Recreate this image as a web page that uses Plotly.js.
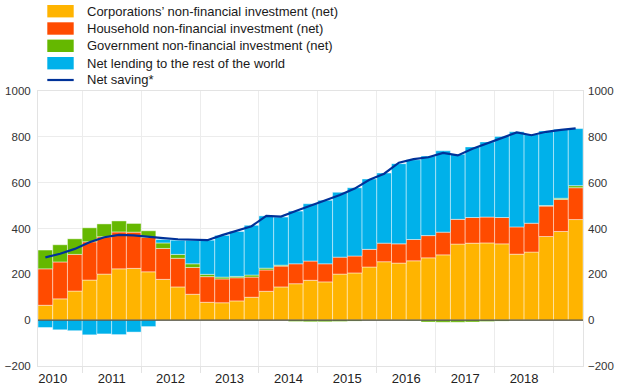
<!DOCTYPE html>
<html>
<head>
<meta charset="utf-8">
<script src="https://cdn.plot.ly/plotly-3.0.1.min.js"></script>
<style>html,body{margin:0;padding:0;background:#fff;}#chart{width:620px;height:388px;}</style>
</head>
<body>
<div id="chart"></div>
<script>
const quarters = ['2010Q2','2010Q3','2010Q4','2011Q1','2011Q2','2011Q3','2011Q4','2012Q1','2012Q2','2012Q3','2012Q4','2013Q1','2013Q2','2013Q3','2013Q4','2014Q1','2014Q2','2014Q3','2014Q4','2015Q1','2015Q2','2015Q3','2015Q4','2016Q1','2016Q2','2016Q3','2016Q4','2017Q1','2017Q2','2017Q3','2017Q4','2018Q1','2018Q2','2018Q3','2018Q4','2019Q1','2019Q2'];
const corporations = [65,93,127,175,201,224,226,211,178,145,113,78,76,84,100,126,145,159,174,167,201,206,232,255,249,259,272,285,332,336,337,333,288,297,365,387,439];
const households = [159,161,160,167,163,161,158,150,135,125,117,112,104,101,88,93,91,87,84,79,74,74,77,81,84,93,97,99,108,112,113,115,119,126,133,140,139];
const government = [82,75,68,61,56,48,38,29,24,17,16,10,8,6,9,8,4,-6,-7,-7,-6,-4,-1,-1,-1,-2,-8,-9,-9,-8,-6,-4,-1,-1,2,5,9];
const netLending = [-32,-42,-46,-64,-60,-63,-52,-28,15,62,103,149,182,196,217,228,210,230,250,277,283,298,307,306,350,348,347,355,284,308,328,353,415,387,326,301,249];
const netSaving = [274,290,311,340,362,372,370,363,358,353,352,349,371,392,410,455,452,476,500,522,546,574,613,639,687,703,711,730,719,748,772,796,819,807,822,830,837];
const years = ['2010','2011','2012','2013','2014','2015','2016','2017','2018'];
const seriesNames = ['Corporations\u2019 non-financial investment (net)','Household non-financial investment (net)','Government non-financial investment (net)','Net lending to the rest of the world','Net saving*'];
const colors = ['#FFB400','#FF4B00','#65B800','#00B1EA','#003299'];

// quarter label -> numeric position (centre of quarter)
const xq = quarters.map(q => parseInt(q.slice(0,4)) + (parseInt(q.slice(5)) - 1) / 4 + 0.125);

const W = 620, H = 388;
const M = {l: 38, r: 37, t: 91, b: 22};
const pw = W - M.l - M.r, ph = H - M.t - M.b;
const px = v => (v - M.l) / pw;
const py = v => (H - M.b - v) / ph;

const barSeries = [corporations, households, government, netLending];
const traces = barSeries.map((vals, i) => ({
  type: 'bar', x: xq, y: vals, name: seriesNames[i],
  marker: {color: colors[i], line: {color: 'rgba(255,255,255,0.55)', width: 0.8}},
  hoverinfo: 'skip', showlegend: false
}));
traces.push({
  type: 'scatter', mode: 'lines', x: xq, y: netSaving, name: seriesNames[4], yaxis: 'y2',
  line: {color: colors[4], width: 2.2}, hoverinfo: 'skip', showlegend: false
});

const shapes = [];
const annotations = [];
const rowsY = [11.2, 28.5, 45.8, 63.2, 80];
for (let i = 0; i < 5; i++) {
  if (i < 4) {
    shapes.push({type: 'rect', xref: 'paper', yref: 'paper', x0: px(47.3), x1: px(73.7),
      y0: py(rowsY[i] + 6.2), y1: py(rowsY[i] - 6.2), fillcolor: colors[i], line: {width: 0}});
  } else {
    shapes.push({type: 'line', xref: 'paper', yref: 'paper', x0: px(47.3), x1: px(73.7),
      y0: py(rowsY[i]), y1: py(rowsY[i]), line: {color: colors[i], width: 2.2}});
  }
  annotations.push({xref: 'paper', yref: 'paper', x: px(85), y: py(rowsY[i]), text: seriesNames[i],
    xanchor: 'left', yanchor: 'middle', showarrow: false, font: {size: 13, color: '#1a1a1a'}});
}
// zero line above bars
shapes.push({type: 'line', xref: 'paper', yref: 'y', x0: 0, x1: 1, y0: 0, y1: 0, layer: 'above',
  line: {color: '#4a4a3c', width: 1.3}});

const yTicks = {
  range: [-200, 1000], tickvals: [-200, 0, 200, 400, 600, 800, 1000],
  tickfont: {size: 11.5, color: '#333'}, ticks: '', fixedrange: true
};

const layout = {
  width: W, height: H, margin: M,
  paper_bgcolor: '#fff', plot_bgcolor: '#fff',
  font: {family: 'Liberation Sans, Arial, sans-serif', color: '#333'},
  barmode: 'relative', bargap: 0,
  showlegend: false,
  xaxis: {
    range: [2010.25, 2019.5],
    tickvals: years.map(y => parseInt(y) + 0.5), ticktext: years,
    ticks: '', showgrid: false, zeroline: false,
    tickfont: {size: 13, color: '#222'},
    showline: true, linecolor: '#e3e3e3', linewidth: 1, mirror: true,
    minor: {tickvals: [2011,2012,2013,2014,2015,2016,2017,2018,2019], ticks: 'outside', ticklen: 6,
      tickcolor: '#e3e3e3', showgrid: true, gridcolor: '#ececec', gridwidth: 1}
  },
  yaxis: Object.assign({}, yTicks, {
    showgrid: true, gridcolor: '#ececec', zeroline: false,
    showline: true, linecolor: '#e3e3e3', mirror: true, ticklabelstandoff: 4
  }),
  yaxis2: Object.assign({}, yTicks, {
    overlaying: 'y', side: 'right', showgrid: false, zeroline: false, showline: false,
    ticklabelstandoff: 4
  }),
  shapes: shapes, annotations: annotations
};

Plotly.newPlot('chart', traces, layout, {staticPlot: true, displayModeBar: false});
</script>
</body>
</html>
